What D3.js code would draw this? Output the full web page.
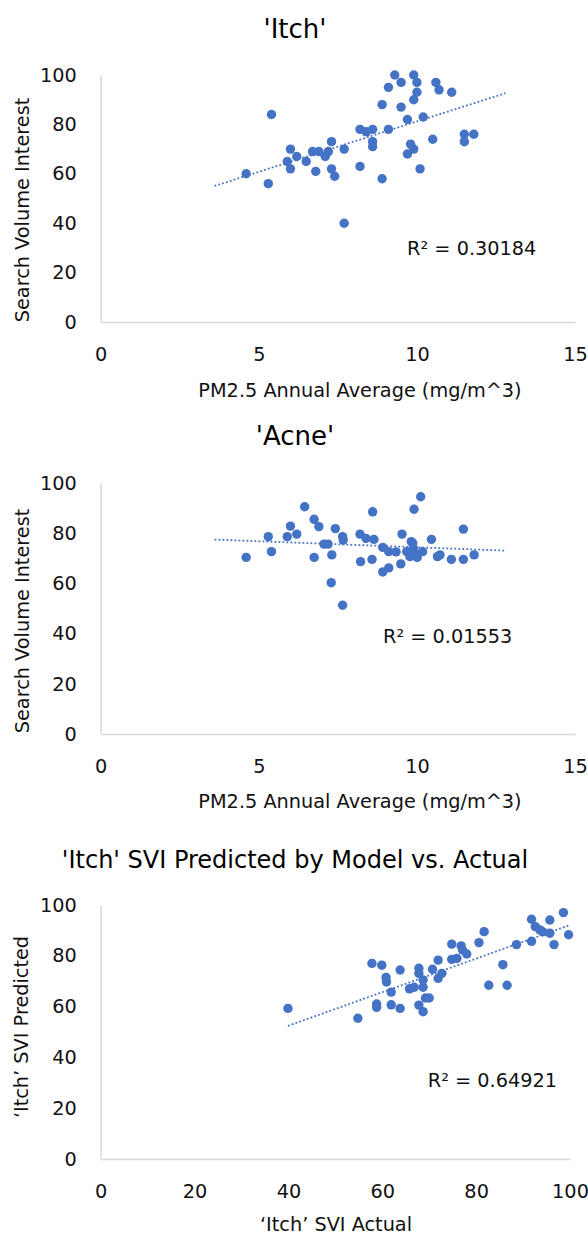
<!DOCTYPE html>
<html>
<head>
<meta charset="utf-8">
<script src="https://cdn.jsdelivr.net/npm/d3@7"></script>
<style>
  body { margin: 0; background: #fff; }
  svg { display: block; font-family: 'DejaVu Sans', sans-serif; }
</style>
</head>
<body>
<div id="chart"></div>
<script>
// PM2.5 vs 'Itch' search volume interest
const itchPm = [9.3, 9.9, 9.5, 10.0, 10.6, 9.1, 10.0, 10.7, 11.1, 9.9, 8.9, 9.5, 5.4, 10.2, 9.7, 8.2, 8.4, 8.6, 9.1, 8.6, 8.6, 10.5, 11.5, 11.8, 11.5, 7.3, 6.0, 6.2, 6.5, 6.7, 6.9, 7.1, 7.2, 7.7, 5.9, 6.0, 4.6, 5.3, 6.8, 7.3, 7.4, 8.2, 8.9, 9.7, 9.8, 9.9, 10.1, 7.7];
const itchSvi = [100, 100, 97, 97, 97, 95, 93, 94, 93, 90, 88, 87, 84, 83, 82, 78, 77, 78, 78, 73, 71, 74, 76, 76, 73, 73, 70, 67, 65, 69, 69, 67, 69, 70, 65, 62, 60, 56, 61, 62, 59, 63, 58, 68, 72, 70, 62, 40];

// PM2.5 vs 'Acne' search volume interest
const acnePm = [4.6, 5.3, 5.4, 5.9, 6.0, 6.2, 6.45, 6.75, 6.9, 6.75, 7.06, 7.19, 7.31, 7.42, 7.65, 7.67, 7.29, 7.65, 8.2, 8.39, 8.64, 8.6, 8.22, 8.58, 8.92, 9.11, 9.34, 8.92, 9.11, 9.49, 9.53, 9.82, 9.91, 10.12, 9.68, 9.78, 9.89, 10.01, 10.18, 10.46, 10.65, 10.73, 11.09, 11.47, 11.47, 11.81, 9.87, 9.95];
const acneSvi = [70.5, 78.8, 72.8, 78.8, 83, 79.8, 90.7, 85.7, 82.8, 70.5, 75.8, 75.8, 71.5, 82, 78.8, 77.4, 60.4, 51.4, 79.8, 78.1, 77.7, 88.7, 68.8, 69.7, 74.5, 72.8, 72.7, 64.7, 66.3, 67.9, 79.8, 76.8, 89.7, 94.7, 72.8, 70.8, 74.1, 70.5, 72.8, 77.7, 70.8, 71.5, 69.7, 69.7, 81.8, 71.5, 76.2, 72];

// 'Itch' SVI actual vs model prediction
const actualSvi = [39.9, 54.8, 57.8, 59.9, 60.8, 60.9, 58.8, 58.8, 61.9, 61.9, 63.8, 63.8, 65.8, 66.8, 67.8, 67.8, 68.7, 68.7, 67.8, 68.7, 69.2, 70.0, 70.7, 71.9, 71.9, 72.7, 74.8, 74.8, 75.9, 76.8, 77.1, 78.0, 80.6, 81.7, 82.7, 85.7, 86.6, 88.6, 91.8, 91.8, 92.6, 93.6, 94.2, 95.7, 95.7, 96.6, 98.6, 99.7];
const predictedSvi = [59.3, 55.4, 77, 76.3, 71.5, 69.7, 61, 59.7, 65.7, 60.7, 74.4, 59.3, 67, 67.6, 75.1, 73.1, 70.5, 67.6, 60.6, 58, 63.4, 63.4, 74.7, 78.3, 71.1, 73.1, 84.6, 78.6, 79, 83.9, 82.3, 80.7, 85.2, 89.5, 68.4, 76.5, 68.4, 84.4, 85.7, 94.4, 91.5, 90.2, 89.4, 94.1, 88.9, 84.4, 97, 88.3];

const pmTicks = [0, 5, 10, 15];
const sviTicks = [0, 20, 40, 60, 80, 100];
const r2Labels = ['R² = 0.30184', 'R² = 0.01553', 'R² = 0.64921'];

const width = 588;
const height = 1235;
const BLUE = '#4472c4';
const FS = 19.3;

const svg = d3.select('#chart')
  .append('svg')
  .attr('width', width)
  .attr('height', height);

function fitLine(xs, ys) {
  const mx = d3.mean(xs), my = d3.mean(ys);
  let sxy = 0, sxx = 0;
  xs.forEach((x, i) => {
    sxy += (x - mx) * (ys[i] - my);
    sxx += (x - mx) * (x - mx);
  });
  const slope = sxy / sxx;
  return { slope, intercept: my - slope * mx };
}

function drawScatter(opts) {
  const g = svg.append('g');
  const x = d3.scaleLinear().domain(opts.xDomain).range([100.7, opts.right]);
  const y = d3.scaleLinear().domain([0, 100]).range([opts.bottom, opts.top]);

  // title
  g.append('text')
    .attr('x', 295)
    .attr('y', opts.titleY)
    .attr('text-anchor', 'middle')
    .attr('font-size', opts.titleSize)
    .attr('fill', '#000')
    .text(opts.title);

  // axes (no tick marks, light grey lines)
  const yAxis = g.append('g')
    .attr('transform', `translate(${x.range()[0]},0)`)
    .call(d3.axisLeft(y).tickValues(sviTicks).tickSize(0).tickPadding(24));
  const xAxis = g.append('g')
    .attr('transform', `translate(0,${opts.bottom})`)
    .call(d3.axisBottom(x).tickValues(opts.xTicks).tickSize(0).tickPadding(25));
  [xAxis, yAxis].forEach(a => {
    a.select('.domain').attr('stroke', '#d9d9d9').attr('stroke-width', 1.5);
    a.selectAll('text').attr('font-size', FS).attr('fill', '#111')
      .attr('font-family', "'DejaVu Sans', sans-serif");
  });

  // axis titles
  g.append('text')
    .attr('transform', `translate(${opts.yTitleX},${opts.yTitleCy}) rotate(-90)`)
    .attr('text-anchor', 'middle')
    .attr('dy', '0.35em')
    .attr('font-size', FS)
    .attr('fill', '#111')
    .text(opts.yTitle);
  g.append('text')
    .attr('x', opts.xTitleCx)
    .attr('y', opts.xTitleY)
    .attr('text-anchor', 'middle')
    .attr('font-size', FS)
    .attr('fill', '#111')
    .text(opts.xTitle);

  // dots
  g.append('g')
    .selectAll('circle')
    .data(opts.xs.map((d, i) => [d, opts.ys[i]]))
    .join('circle')
    .attr('cx', d => x(d[0]))
    .attr('cy', d => y(d[1]))
    .attr('r', 4.7)
    .attr('fill', BLUE);

  // linear trendline, dotted
  const fit = fitLine(opts.xs, opts.ys);
  const x0 = d3.min(opts.xs) - opts.extend;
  const x1 = d3.max(opts.xs) + opts.extend;
  g.append('line')
    .attr('x1', x(x0))
    .attr('y1', y(fit.intercept + fit.slope * x0))
    .attr('x2', x(x1))
    .attr('y2', y(fit.intercept + fit.slope * x1))
    .attr('stroke', BLUE)
    .attr('stroke-width', 1.8)
    .attr('stroke-dasharray', '1.8,2.2');

  // R squared
  g.append('text')
    .attr('x', x(opts.r2At[0]))
    .attr('y', y(opts.r2At[1]))
    .attr('font-size', FS)
    .attr('fill', '#111')
    .text(opts.r2);
}

drawScatter({
  title: "'Itch'", titleY: 38, titleSize: 26,
  xs: itchPm, ys: itchSvi, xDomain: [0, 15], xTicks: pmTicks,
  right: 575, top: 75, bottom: 322,
  yTitle: 'Search Volume Interest', yTitleX: 22, yTitleCy: 210,
  xTitle: 'PM2.5 Annual Average (mg/m^3)', xTitleCx: 360, xTitleY: 397,
  extend: 1, r2: r2Labels[0], r2At: [9.69, 27]
});

drawScatter({
  title: "'Acne'", titleY: 445, titleSize: 26,
  xs: acnePm, ys: acneSvi, xDomain: [0, 15], xTicks: pmTicks,
  right: 575, top: 483.5, bottom: 734,
  yTitle: 'Search Volume Interest', yTitleX: 22, yTitleCy: 621,
  xTitle: 'PM2.5 Annual Average (mg/m^3)', xTitleCx: 360, xTitleY: 808,
  extend: 1, r2: r2Labels[1], r2At: [8.93, 36.3]
});

drawScatter({
  title: "'Itch' SVI Predicted by Model vs. Actual", titleY: 868, titleSize: 24,
  xs: actualSvi, ys: predictedSvi, xDomain: [0, 100], xTicks: sviTicks,
  right: 570, top: 905, bottom: 1159,
  yTitle: '‘Itch’ SVI Predicted', yTitleX: 21, yTitleCy: 1027,
  xTitle: '‘Itch’ SVI Actual', xTitleCx: 336, xTitleY: 1231,
  extend: 0, r2: r2Labels[2], r2At: [69.7, 28.3]
});
</script>
</body>
</html>
